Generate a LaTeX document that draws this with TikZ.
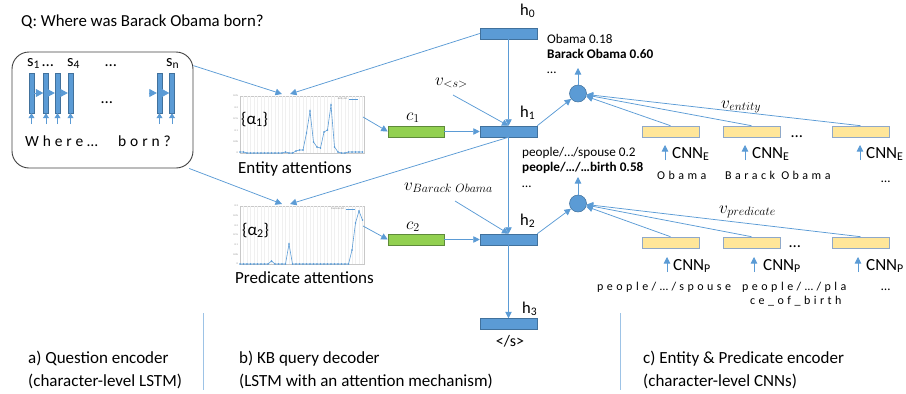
\documentclass[tikz,border=0pt]{standalone}
\usepackage{fontspec}
\setmainfont{Carlito}
\newfontfamily\spacedfont[LetterSpace=29]{Carlito}
\newfontfamily\wordfont[LetterSpace=25]{Carlito}
\usetikzlibrary{arrows.meta}
\definecolor{hblue}{HTML}{5B9BD5}
\definecolor{hborder}{HTML}{41719C}
\definecolor{lblue}{HTML}{5B9BD5}
\definecolor{cgreen}{HTML}{92D050}
\definecolor{gborder}{HTML}{5E8A3A}
\definecolor{cyellow}{HTML}{FFE699}
\definecolor{yborder}{HTML}{8FA8C8}
\definecolor{gridc}{HTML}{F0F0F0}
\definecolor{framec}{HTML}{C8C8C8}
\definecolor{tickc}{HTML}{808080}
\begin{document}
\begin{tikzpicture}[x=1pt,y=-1pt,
  conn/.style={draw=lblue,line width=0.75pt,-{Triangle[length=6.5pt,width=6.5pt]}},
  hbox/.style={rectangle,fill=hblue,draw=hborder,line width=0.5pt,minimum width=57pt,minimum height=11pt,inner sep=0pt},
  gbox/.style={rectangle,fill=cgreen,draw=gborder,line width=0.6pt,minimum width=56pt,minimum height=11pt,inner sep=0pt},
  ybox/.style={rectangle,fill=cyellow,draw=yborder,line width=0.6pt,minimum width=57pt,minimum height=11pt,inner sep=0pt},
  dotnode/.style={circle,fill=hblue,draw=hborder,line width=0.5pt,minimum size=17pt,inner sep=0pt},
  lbar/.style={rectangle,fill=hblue,draw=hborder,line width=0.4pt,minimum width=5pt,minimum height=40pt,inner sep=0pt},
  lstmtip/.style={draw=hblue,line width=0.75pt,-{Triangle[length=7.5pt,width=8pt]}},
  uptip/.style={draw=lblue,line width=0.75pt,-{Triangle[length=5pt,width=6pt]}},
  txt/.style={inner sep=0pt,anchor=base west},
  big/.style={font=\fontsize{17}{20}\selectfont},
  mid/.style={font=\fontsize{17}{20}\selectfont},
  lab/.style={font=\fontsize{16.5}{20}\selectfont},
  small/.style={font=\fontsize{13.2}{16}\selectfont},
  spaced/.style={font=\spacedfont\fontsize{12}{14}\selectfont},
  mathlab/.style={inner sep=0pt,font=\fontsize{17.5}{20}\selectfont},
  tick/.style={font=\fontsize{2.5}{3}\selectfont,text=tickc,inner sep=0pt,anchor=east},
  curve/.style={draw=hblue,line width=0.6pt,mark=*,mark size=0.5pt,mark options={fill=hblue}},
  divider/.style={draw=lblue!60,line width=0.5pt}
]
\useasboundingbox (0,0) rectangle (906,394);

% ---------- question encoder ----------
\node[txt,font=\fontsize{16.8}{20}\selectfont] (q) at (21,26) {Q: Where was Barack Obama born?};
\node[draw=black!75,line width=0.9pt,rounded corners=17pt,minimum width=181pt,minimum height=116pt,inner sep=0pt] (qbox) at (102.5,110) {};
\node[lbar] (b1) at (31.5,93) {};
\node[lbar] (b2) at (46,93) {};
\node[lbar] (b3) at (57.5,93) {};
\node[lbar] (b4) at (70.5,93) {};
\node[lbar] (b5) at (159.5,93) {};
\node[lbar] (b6) at (172,93) {};
\coordinate (b5in) at (149,93);
\draw[lstmtip] (b1.east) -- (b2.west);
\draw[lstmtip] (b2.east) -- (b3.west);
\draw[lstmtip] (b3.east) -- (b4.west);
\draw[lstmtip] (b5in) -- (b5.west);
\draw[lstmtip] (b5.east) -- (b6.west);
\foreach \b in {b1,b2,b3,b4,b5,b6}
  \draw[uptip] ([yshift=-11pt]\b.south) -- (\b.south);
\node[txt,lab] (s1) at (27,66) {s\textsubscript{1}};
\node[txt,lab] (sd1) at (42,66) {…};
\node[txt,lab] (s4) at (67,66) {s\textsubscript{4}};
\node[txt,lab] (sd2) at (105,66) {…};
\node[txt,lab] (sn) at (166,66) {s\textsubscript{n}};
\node[txt,lab] (md) at (101,103) {…};
\node[txt,font=\wordfont\fontsize{15.5}{18}\selectfont] (w1) at (25,146) {Where…};
\node[txt,font=\wordfont\fontsize{15.5}{18}\selectfont] (w2) at (118,146) {born?};

% ---------- attention charts ----------
% entity chart
\draw[framec,line width=0.4pt] (240,96) rectangle (364,153);
\foreach \i in {1,...,35} \draw[gridc,line width=0.3pt] ({240+\i*3.5},96) -- ({240+\i*3.5},153);
\foreach \yy/\lab in {96/0.25,107.4/0.2,118.8/0.15,130.2/0.1,141.6/0.05,153/0}
  \node[tick] at (238,\yy) {\lab};
\node[font=\fontsize{2.5}{3}\selectfont,text=tickc,inner sep=0pt,anchor=east] at (348,99) {Entity Att.};
\draw[hblue,line width=0.3pt] (349,99) -- (358,99);
\draw[curve] plot coordinates {(240,152) (243.5,152) (247,153) (250.5,153) (254,153) (257.5,153) (261,153) (264.5,153) (268,153) (271.5,153) (275,153) (278.5,153) (282,153) (285.5,152) (289,153) (292.5,153) (296,151) (299.5,150) (303,150) (306.5,133) (310,111) (313.5,142) (317,147) (320.5,148) (324,132) (327.5,130) (331,105) (334.5,147) (338,152) (341.5,153) (345,153) (348.5,152) (352,152) (355.5,152) (359,152) (362.5,152)};
\node[txt,big] (a1) at (241,124) {\{α\textsubscript{1}\}};
\node[txt,mid] (ea) at (238,173) {Entity attentions};
\coordinate (eIn1) at (282,94);
\coordinate (eIn2) at (290,94);
\coordinate (eOut) at (363,117);

% predicate chart
\draw[framec,line width=0.4pt] (240,206) rectangle (364,264);
\foreach \i in {1,...,35} \draw[gridc,line width=0.3pt] ({240+\i*3.5},206) -- ({240+\i*3.5},264);
\foreach \yy/\lab in {206/0.3,215.7/0.25,225.3/0.2,235/0.15,244.7/0.1,254.3/0.05,264/0}
  \node[tick] at (238,\yy) {\lab};
\node[font=\fontsize{2.5}{3}\selectfont,text=tickc,inner sep=0pt,anchor=east] at (345,209) {Predicate Att.};
\draw[hblue,line width=0.3pt] (346,209) -- (355,209);
\draw[curve] plot coordinates {(240,264) (243.5,264) (247,264) (250.5,264) (254,264) (257.5,264) (261,264) (264.5,264) (268,264) (271.5,261) (275,264) (278.5,264) (282,264) (285.5,264) (289,244) (292.5,264) (296,264) (299.5,264) (303,264) (306.5,264) (310,264) (313.5,264) (317,264) (320.5,264) (324,264) (327.5,264) (331,264) (334.5,264) (338,264) (341.5,264) (345,264) (348.5,264) (352,250) (355.5,223) (359,211) (362.5,220)};
\node[txt,big] (a2) at (242,235) {\{α\textsubscript{2}\}};
\node[txt,mid] (pa) at (235,283) {Predicate attentions};
\coordinate (pIn1) at (282,204);
\coordinate (pIn2) at (290,204);
\coordinate (pOut) at (363,226);

% ---------- decoder ----------
\node[hbox] (h0) at (508.5,33.5) {};
\node[hbox] (h1) at (508.5,131.5) {};
\node[hbox] (h2) at (508.5,239.5) {};
\node[hbox] (h3) at (508.5,324) {};
\node[txt,lab] (lh0) at (520,15) {h\textsubscript{0}};
\node[txt,lab] (lh1) at (520,117) {h\textsubscript{1}};
\node[txt,lab] (lh2) at (520,225) {h\textsubscript{2}};
\node[txt,lab] (lh3) at (522,313) {h\textsubscript{3}};
\node[inner sep=0pt,anchor=base,font=\fontsize{16}{19}\selectfont] (eos) at (510,346) {</s>};
\node[gbox] (c1) at (416,131.5) {};
\node[gbox] (c2) at (416,239.5) {};
\node[mathlab,anchor=base] (lc1) at (413,120) {$c_1$};
\node[mathlab,anchor=base] (lc2) at (413,229) {$c_2$};
\node[mathlab,anchor=base west] (vs) at (435,85) {$v_{<s>}$};
\node[mathlab,anchor=base west,font=\fontsize{18}{21}\selectfont] (vb) at (404,190) {$v_{Barack\ Obama}$};
\coordinate (vsA) at (453,95);
\coordinate (vbA) at (455,201);

\draw[conn] (qbox.26) -- (eIn1);
\draw[conn] (h0.west) -- (eIn2);
\draw[conn] (qbox.-34) -- (pIn1);
\draw[conn] (h1.south) -- (pIn2);
\draw[conn] (eOut) -- (c1.west);
\draw[conn] (pOut) -- (c2.west);
\draw[conn] (c1.east) -- (h1.west);
\draw[conn] (c2.east) -- (h2.west);
\draw[conn] (h0.south) -- (h1.north);
\draw[conn] (h1.south) -- (h2.north);
\draw[conn] (h2.south) -- (h3.north);
\draw[conn] (vsA) -- (h1.north);
\draw[conn] (vbA) -- (h2.north);

% ---------- scoring ----------
\node[dotnode] (circ1) at (578,93.5) {};
\node[dotnode] (circ2) at (578,203.5) {};
\coordinate (out1) at (578,68);
\coordinate (out2) at (578,177);
\draw[conn] (h1.north east) -- (circ1);
\draw[conn] (h2.north east) -- (circ2);
\draw[conn] (circ1) -- (out1);
\draw[conn] (circ2) -- (out2);
\node[txt,small] (r1) at (547,43) {Obama 0.18};
\node[txt,small] (r2) at (547,58) {\bfseries Barack Obama 0.60};
\node[txt,small] (r3) at (547,73) {…};
\node[txt,small] (p1) at (522,156) {people/…/spouse 0.2};
\node[txt,small] (p2) at (522,171) {\bfseries people/…/…birth 0.58};
\node[txt,small] (p3) at (522,187) {…};

% ---------- entity & predicate encoder ----------
\node[ybox] (eb1) at (670.5,131.5) {};
\node[ybox] (eb2) at (751.5,131.5) {};
\node[ybox] (eb3) at (860.5,131.5) {};
\node[ybox] (pb1) at (670.5,242.5) {};
\node[ybox] (pb2) at (751.5,242.5) {};
\node[ybox] (pb3) at (860.5,242.5) {};
\node[txt,lab] (ed) at (791,137) {…};
\node[txt,lab] (pd) at (789,247) {…};
\draw[conn] (eb1.north) -- (circ1);
\draw[conn] (eb2.north) -- (circ1);
\draw[conn] (eb3.north) -- (circ1);
\draw[conn] (pb1.north) -- (circ2);
\draw[conn] (pb2.north) -- (circ2);
\draw[conn] (pb3.north) -- (circ2);
\node[mathlab,anchor=base west] (ve) at (721,108) {$v_{entity}$};
\node[mathlab,anchor=base west] (vp) at (719,213) {$v_{predicate}$};

\coordinate (ce1a) at (665,160); \coordinate (ce1b) at (665,145);
\coordinate (ce2a) at (745,160); \coordinate (ce2b) at (745,145);
\coordinate (ce3a) at (860,160); \coordinate (ce3b) at (860,145);
\coordinate (cp1a) at (667,272); \coordinate (cp1b) at (667,257);
\coordinate (cp2a) at (754,272); \coordinate (cp2b) at (754,257);
\coordinate (cp3a) at (858,272); \coordinate (cp3b) at (858,257);
\foreach \a/\bb in {ce1a/ce1b,ce2a/ce2b,ce3a/ce3b,cp1a/cp1b,cp2a/cp2b,cp3a/cp3b}
  \draw[conn] (\a) -- (\bb);
\node[txt,big] (ne1) at (672,158) {CNN\textsubscript{E}};
\node[txt,big] (ne2) at (752,158) {CNN\textsubscript{E}};
\node[txt,big] (ne3) at (866,158) {CNN\textsubscript{E}};
\node[txt,big] (np1) at (673,270) {CNN\textsubscript{P}};
\node[txt,big] (np2) at (763,270) {CNN\textsubscript{P}};
\node[txt,big] (np3) at (866,270) {CNN\textsubscript{P}};
\node[txt,spaced] (we1) at (657,179) {Obama};
\node[txt,spaced] (we2) at (725,179) {Barack Obama};
\node[txt,small] (we3) at (881,182) {…};
\node[txt,spaced] (wp1) at (597,290) {people/…/spouse};
\node[txt,spaced] (wp2) at (742,290) {people/…/pla};
\node[txt,spaced] (wp2b) at (750,304) {ce\_of\_birth};
\node[txt,small] (wp3) at (881,290) {…};

% ---------- captions ----------
\draw[divider] (203,313) -- (203,390);
\draw[divider] (620,313) -- (620,390);
\node[txt,font=\fontsize{17}{20}\selectfont] (ca1) at (28,363) {a) Question encoder};
\node[txt,font=\fontsize{17}{20}\selectfont] (ca2) at (28,386) {(character-level LSTM)};
\node[txt,font=\fontsize{17}{20}\selectfont] (cb1) at (239,363) {b) KB query decoder};
\node[txt,font=\fontsize{17}{20}\selectfont] (cb2) at (239,386) {(LSTM with an attention mechanism)};
\node[txt,font=\fontsize{17}{20}\selectfont] (cc1) at (643,363) {c) Entity \& Predicate encoder};
\node[txt,font=\fontsize{17}{20}\selectfont] (cc2) at (643,386) {(character-level CNNs)};
\end{tikzpicture}
\end{document}
